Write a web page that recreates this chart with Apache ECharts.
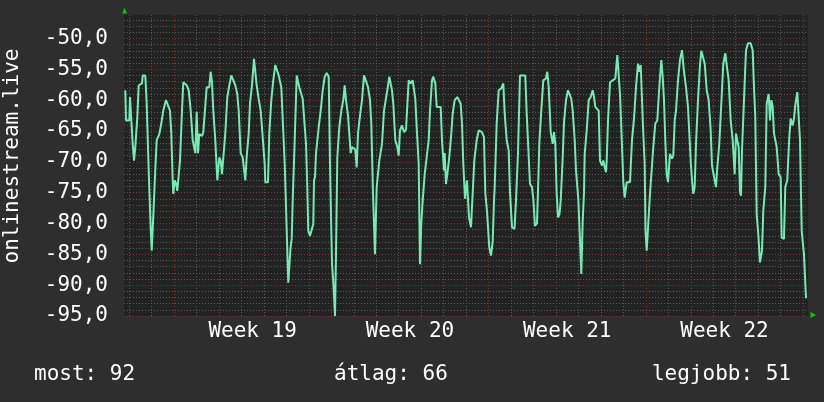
<!DOCTYPE html>
<html>
<head>
<meta charset="utf-8">
<script src="https://cdn.jsdelivr.net/npm/echarts@6/dist/echarts.min.js"></script>
<style>html,body{margin:0;padding:0;background:#2e2e2e;}</style>
</head>
<body>
<div id="main" style="width:824px;height:402px;"></div>
<script>
// time in days from the start of Week 19 (Monday), value in dBm
var days = [
  -2.167,-2.136,-1.989,-1.958,-1.869,-1.838,-1.780,-1.722,-1.633,-1.571,
  -1.424,-1.393,-1.277,-1.215,-1.126,-1.046,-0.992,-0.948,-0.912,-0.832,
  -0.770,-0.654,-0.565,-0.476,-0.356,-0.267,-0.178,-0.120,-0.058,-0.031,
  0.031,0.089,0.147,0.209,0.267,0.356,0.414,0.503,0.565,0.654,
  0.743,0.832,0.948,1.010,1.068,1.126,1.188,1.246,1.304,1.366,
  1.455,1.571,1.633,1.691,1.749,1.838,1.927,2.016,2.078,2.136,
  2.194,2.283,2.372,2.461,2.550,2.639,2.728,2.817,2.879,2.968,
  3.057,3.115,3.173,3.235,3.324,3.382,3.471,3.560,3.618,3.680,
  3.769,3.858,3.947,4.036,4.063,4.183,4.241,4.330,4.419,4.508,
  4.597,4.660,4.717,4.775,4.864,4.927,5.007,5.087,5.131,5.185,
  5.238,5.283,5.372,5.461,5.518,5.576,5.665,5.728,5.817,5.875,
  5.932,5.977,6.053,6.128,6.199,6.231,6.275,6.320,6.440,6.529,
  6.618,6.707,6.796,6.885,6.943,6.974,7.032,7.098,7.165,7.210,
  7.268,7.357,7.446,7.534,7.597,7.655,7.744,7.802,7.864,7.922,
  8.011,8.069,8.131,8.189,8.278,8.367,8.456,8.545,8.634,8.723,
  8.781,8.856,8.945,9.021,9.137,9.257,9.346,9.435,9.493,9.582,
  9.644,9.702,9.760,9.849,9.938,10.000,10.058,10.147,10.236,10.325,
  10.445,10.534,10.623,10.681,10.739,10.801,10.890,10.948,11.006,11.068,
  11.157,11.246,11.335,11.393,11.482,11.540,11.629,11.691,11.780,11.869,
  11.927,12.016,12.047,12.105,12.163,12.252,12.341,12.403,12.492,12.550,
  12.608,12.697,12.759,12.817,12.875,12.951,13.040,13.129,13.218,13.307,
  13.365,13.471,13.560,13.618,13.707,13.796,13.854,13.930,14.032,14.108,
  14.183,14.241,14.272,14.361,14.450,14.566,14.655,14.718,14.807,14.896,
  14.953,15.042,15.154,15.220,15.309,15.398,15.487,15.634,15.697,15.786,
  15.843,15.932,15.990,16.066,16.155,16.222,16.257,16.346,16.435,16.555,
  16.613,16.676,16.765,16.854,16.912,16.969,17.032,17.090,17.156,17.210,
  17.299,17.357,17.446,17.535,17.624,17.681,17.744,17.833,17.891,17.993,
  18.069,18.127,18.189,18.247,18.278,18.367,18.456,18.545,18.634,18.692,
  18.750,18.839,18.901,18.959,19.048,19.106,19.168,19.226,19.257,19.315,
  19.404,19.524,19.640,19.729,19.791,19.849,19.907,19.996,20.058,20.147,
  20.294,20.383,20.472,20.561,20.650,20.708,20.770,20.828,20.886,20.948,
  20.984,21.037,21.108,21.184,21.242,21.331,21.420,21.509,21.598,21.687,
  21.749,21.807,21.865,21.927,21.985,22.074,22.163,22.221,22.283,22.341,
  22.430,22.519,22.608,22.697,22.786,22.875,22.995,23.053,23.111,23.173,
  23.231,23.320,23.409,23.467,23.556,23.619,23.708,23.796,23.885,23.943,
  24.032,24.121,24.179,24.268,24.357,24.446,24.535,24.597,24.686,24.775,
  24.864,24.953,25.011,25.069,25.131,25.189,25.234,25.278,25.367,25.456,
  25.545,25.665,25.754,25.812,25.870,25.932,26.004,26.079,26.169,26.227,
  26.316,26.377,26.466,26.524,26.582,26.644,26.702,26.822,26.911,27.000,
  27.045,27.147,27.205,27.294,27.383,27.445,27.534,27.592,27.650,27.739,
  27.801,27.860,27.935,28.037,28.127,28.158
];
var signal = [
  -58.4,-63.3,-63.3,-59.5,-59.5,-67.1,-69.8,-67.6,-62.8,-57.6,
  -57.3,-56,-56,-60.6,-71.4,-80,-84.4,-84.4,-78,-71.2,
  -66.5,-65.5,-63.8,-61.7,-60,-60,-61.7,-65.4,-73,-75.2,
  -73,-73.5,-74.7,-74.5,-69.8,-61.7,-57.1,-57.1,-57.6,-58.4,
  -61.7,-66.5,-68.6,-61.9,-68.6,-65.5,-65.2,-65.8,-65.2,-62.2,
  -57.9,-57.9,-55.4,-57.1,-61.7,-66.5,-73,-69.3,-69.8,-72,
  -72,-65.4,-59.5,-57.6,-56,-55.7,-57.6,-59,-61.7,-68.6,
  -69.3,-69.3,-73,-69.2,-65.4,-60.5,-57.6,-53.3,-53.5,-57.6,
  -59.8,-61.7,-66,-70.3,-73.3,-73.3,-65.4,-60,-56.8,-54.3,
  -54.3,-56,-56,-57.9,-58.1,-70.3,-80,-89.6,-89.6,-84,
  -82.5,-76.3,-66.5,-56,-55.7,-57.9,-57.9,-59.8,-60,-67.1,
  -74.1,-81.2,-82,-82,-80.1,-73,-72.5,-68.6,-64.4,-61.7,
  -58.4,-56.2,-55.6,-56.2,-70.3,-76.3,-86.5,-90,-95,-85,
  -69.3,-64.4,-61.7,-60,-57.6,-60,-62.5,-62.6,-68.6,-67.6,
  -67.6,-68,-70.9,-65.4,-62.5,-60,-56,-56.2,-57.9,-60,
  -63.8,-75,-85,-74.1,-69.8,-67.1,-61.7,-61.5,-58.4,-56.2,
  -56,-58.4,-60.6,-66.5,-67.6,-69,-64.9,-64.1,-65.2,-64.8,
  -56.8,-57.3,-56.8,-57,-59.8,-64.4,-70.3,-86.6,-80,-76.3,
  -72,-72,-66.5,-61.7,-56.8,-56.2,-57.3,-61.1,-60.8,-61.1,
  -66.5,-71.4,-68.6,-73.6,-72,-69.3,-65.4,-62.2,-60,-60.3,
  -59.5,-59.5,-60.6,-63.8,-70.3,-76,-73,-79,-80.6,-80.6,
  -69.8,-66.5,-64.9,-64.6,-65.2,-66,-75,-78,-83.9,-85.2,
  -83,-76.3,-74.1,-63.8,-58.4,-58.1,-57.3,-62.2,-66.5,-68.2,
  -75,-80.6,-80.9,-76.3,-68.6,-56,-55.7,-56,-62.2,-62.3,
  -73.6,-74.1,-76,-80.4,-80,-72,-67.1,-61.7,-56.8,-56.5,
  -55.4,-57.9,-65.2,-67.1,-65.2,-67.1,-75.2,-79,-78.5,-76.3,
  -69.3,-63.6,-60,-58.4,-58.1,-59.8,-61.7,-66.5,-71.4,-76,
  -82.8,-88.2,-79.6,-75,-68.7,-64.9,-60,-59.5,-58.4,-59.5,
  -61.1,-61.1,-61.7,-69.8,-70.6,-69.8,-70.9,-71.7,-69.8,-63.3,
  -57.1,-56.8,-56.5,-52.7,-52.9,-59,-64.4,-73.3,-75.8,-73.3,
  -73.3,-66.5,-63,-57.9,-54.1,-55.4,-54.3,-54.3,-65.4,-70.3,
  -81.2,-84.4,-80,-75.2,-75.5,-67.6,-63.8,-63.3,-57.9,-53.5,
  -56.2,-60,-66.5,-72,-73.3,-68.7,-69.5,-69,-63.3,-61.7,
  -56.8,-53.5,-51.9,-55.4,-57.9,-61.1,-69.8,-73,-75.2,-74.1,
  -67.1,-60,-54.3,-52,-52.2,-54.1,-58.4,-60,-64.9,-70.6,
  -70.9,-74.1,-70.9,-67.1,-60.6,-54.1,-52.4,-54.3,-56.8,-63.3,
  -66.5,-72,-65.4,-66.5,-67.6,-74.9,-75.5,-68.2,-60,-51.9,
  -50.8,-50.8,-51.9,-57.9,-62.8,-78.5,-81.7,-86.3,-84.4,-77.9,
  -74.1,-60.6,-59,-63.3,-60,-61,-65.4,-67.6,-72,-72.5,
  -82.3,-82.5,-74.1,-73,-66,-63,-64.1,-63,-60.8,-58.7,
  -58.4,-66.5,-81.2,-85,-92,-92.1
];
var weekNames = ['Week 19', 'Week 20', 'Week 21', 'Week 22'];
var weekMiddles = [3.5, 10.5, 17.5, 24.5];
var weekStarts = [0, 7, 14, 21, 28];
var dayStarts = [];
for (var d = -2; d <= 28; d++) dayStarts.push(d);
var yMajor = [-95, -90, -85, -80, -75, -70, -65, -60, -55, -50];
var yMinor = [];
for (var y = -95; y <= -47; y++) yMinor.push(y);
var xMin = -2.225, xMax = 28.216;
var yMin = -95, yMax = -46.2;
var most = 92, atlag = 66, legjobb = 51;

var FONT = 'DejaVu Sans Mono';
var TXT = '21px "DejaVu Sans Mono"';
var chart = echarts.init(document.getElementById('main'));

var points = [];
for (var i = 0; i < days.length; i++) points.push([days[i], signal[i]]);

function gridX(ticks, color, labels) {
  return {
    type: 'value', min: xMin, max: xMax, gridIndex: 0, position: 'bottom', offset: 0,
    axisLine: { show: false },
    axisTick: { show: false, customValues: ticks },
    axisLabel: labels ? {
      show: true, customValues: weekMiddles, margin: 5,
      color: '#ffffff', fontFamily: FONT, fontSize: 21,
      formatter: function (v) { return weekNames[weekMiddles.indexOf(v)]; }
    } : { show: false },
    splitLine: color ? { show: true, lineStyle: { color: color, type: [1, 2], width: 1 } } : { show: false }
  };
}
function gridY(ticks, color, labels) {
  return {
    type: 'value', min: yMin, max: yMax, gridIndex: 0, position: 'left', offset: 0,
    axisLine: { show: false },
    axisTick: { show: false, customValues: ticks },
    axisLabel: labels ? {
      show: true, customValues: yMajor, margin: 16,
      color: '#ffffff', fontFamily: FONT, fontSize: 21,
      formatter: function (v) { return v.toFixed(1).replace('.', ','); }
    } : { show: false },
    splitLine: { show: true, lineStyle: { color: color, type: [1, 2], width: 1 } }
  };
}

chart.setOption({
  backgroundColor: '#2e2e2e',
  animation: false,
  grid: {
    left: 124, right: 16, top: 15, bottom: 86,
    containLabel: false, outerBoundsMode: 'none',
    show: true, backgroundColor: '#222222', borderWidth: 0
  },
  xAxis: [
    gridX(dayStarts, '#5a5a5a', false),
    gridX(weekStarts, '#7a3636', false),
    gridX(weekMiddles, null, true)
  ],
  yAxis: [
    gridY(yMinor, '#5a5a5a', false),
    gridY(yMajor, '#7a3636', true)
  ],
  series: [{
    type: 'line',
    xAxisIndex: 2, yAxisIndex: 1,
    data: points,
    showSymbol: false,
    symbol: 'none',
    lineStyle: { color: '#74ebb5', width: 2 },
    z: 5
  }],
  graphic: [
    { type: 'text', x: 13, y: 156, rotation: Math.PI / 2,
      style: { text: 'onlinestream.live', fill: '#ffffff', font: TXT, textAlign: 'center', textVerticalAlign: 'middle' } },
    { type: 'text', x: 34, y: 375,
      style: { text: 'most: ' + most, fill: '#ffffff', font: TXT, textAlign: 'left', textVerticalAlign: 'middle' } },
    { type: 'text', x: 334, y: 375,
      style: { text: '\u00e1tlag: ' + atlag, fill: '#ffffff', font: TXT, textAlign: 'left', textVerticalAlign: 'middle' } },
    { type: 'text', x: 791, y: 375,
      style: { text: 'legjobb: ' + legjobb, fill: '#ffffff', font: TXT, textAlign: 'right', textVerticalAlign: 'middle' } },
    { type: 'polygon', shape: { points: [[122, 13.5], [127, 13.5], [124.5, 8]] }, style: { fill: '#00cc00' } },
    { type: 'polygon', shape: { points: [[810.5, 312], [810.5, 318], [816, 315]] }, style: { fill: '#00cc00' } }
  ]
});
</script>
</body>
</html>
